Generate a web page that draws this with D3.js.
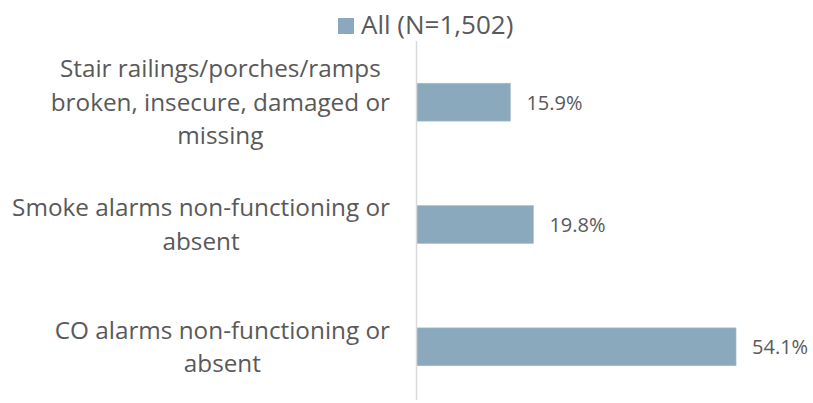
<!DOCTYPE html>
<html><head><meta charset="utf-8">
<script src="https://cdn.jsdelivr.net/npm/d3@7"></script>
<style>body{margin:0;background:#fff}svg{display:block}</style>
</head><body>
<script>
const categories = [
  ["Stair railings/porches/ramps", "broken, insecure, damaged or", "missing"],
  ["Smoke alarms non-functioning or", "absent"],
  ["CO alarms non-functioning or", "absent"]
];
const values = [15.9, 19.8, 54.1];
const seriesName = "All (N=1,502)";

const W = 813, H = 403;
const barColor = "#8aa9bd", textColor = "#595959", font = "'Open Sans', sans-serif";
const svg = d3.select("body").append("svg").attr("width", W).attr("height", H);

const y = d3.scaleBand().domain(d3.range(categories.length)).range([41, 408])
  .paddingInner(0.69).paddingOuter(0.345);
const x = d3.scaleLinear().domain([0, 60]).range([416.5, 770.9]);

// bars
svg.selectAll("rect.bar").data(values).join("rect").attr("class", "bar")
  .attr("x", x(0)).attr("y", (d, i) => y(i))
  .attr("width", d => x(d) - x(0)).attr("height", y.bandwidth())
  .attr("fill", barColor).attr("stroke", "#a9c0cf").attr("stroke-width", 0.6);

// axis line
svg.append("line").attr("x1", x(0)).attr("x2", x(0)).attr("y1", 41).attr("y2", 400)
  .attr("stroke", "#d9d9d9").attr("stroke-width", 1.5);

// value labels
svg.selectAll("text.val").data(values).join("text").attr("class", "val")
  .attr("x", d => x(d) + 16).attr("y", (d, i) => y(i) + y.bandwidth() / 2 + 7.5)
  .attr("font-family", font).attr("font-size", 20).attr("fill", textColor)
  .text(d => d.toFixed(1) + "%");

// category labels
const lh = 33.5, rightEdge = 390;
categories.forEach((lines, i) => {
  const g = svg.append("g");
  const txt = g.append("text").attr("font-family", font).attr("font-size", 24.3)
    .attr("fill", textColor).attr("text-anchor", "middle");
  const cy = y(i) + y.bandwidth() / 2;
  const n = lines.length;
  lines.forEach((l, k) => {
    txt.append("tspan").attr("x", 0).attr("y", cy + (k - (n - 1) / 2) * lh + 8.5).text(l);
  });
  const w = txt.node().getBBox().width;
  txt.attr("transform", `translate(${rightEdge - w / 2},0)`);
});

// legend
const lg = svg.append("g");
lg.append("rect").attr("x", 338).attr("y", 18).attr("width", 16).attr("height", 16).attr("fill", barColor);
lg.append("text").attr("x", 361).attr("y", 34).attr("font-family", font).attr("font-size", 26)
  .attr("fill", textColor).text(seriesName);
</script>
</body></html>
